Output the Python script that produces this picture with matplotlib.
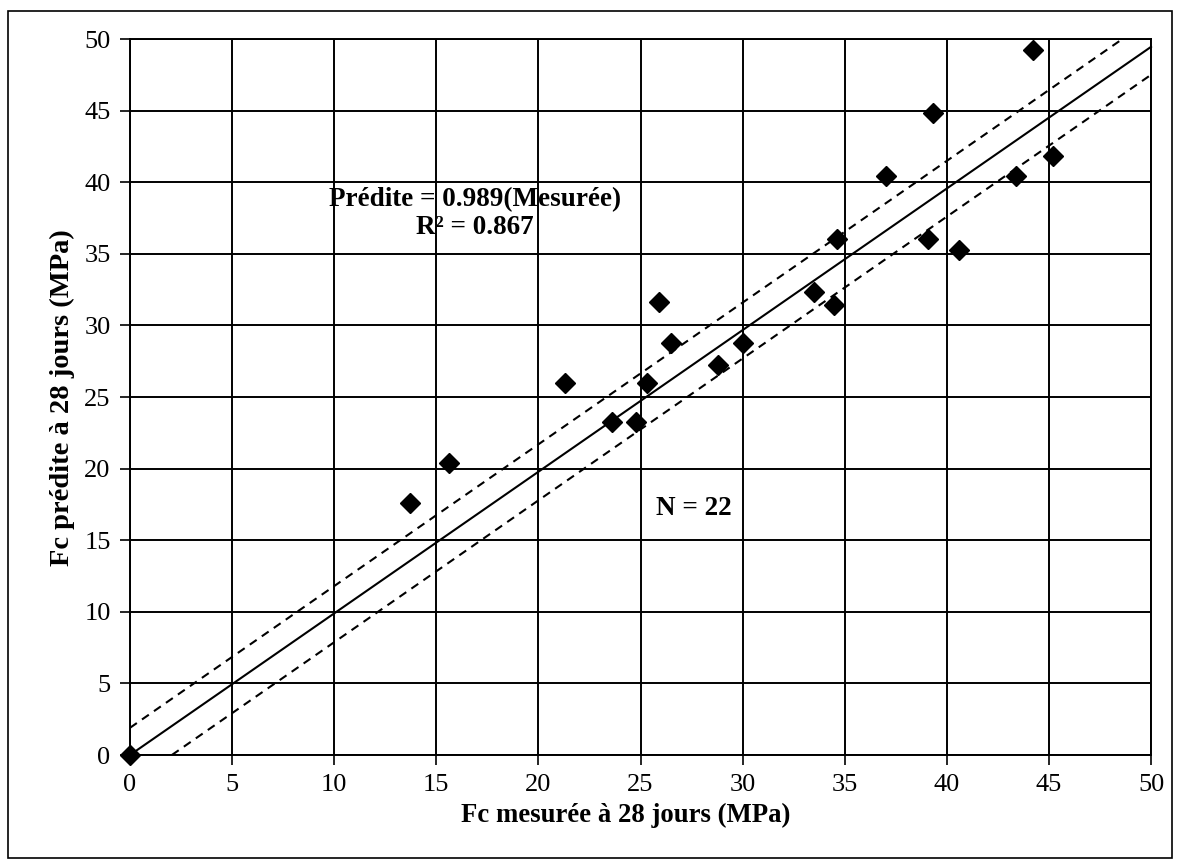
import matplotlib
matplotlib.use("Agg")
import matplotlib.pyplot as plt
from matplotlib.patches import Rectangle

# Data
measured = [0, 13.7, 15.6, 21.3, 23.6, 24.8, 25.3, 25.9, 26.5, 28.8, 30.0,
            33.5, 34.5, 34.6, 37.0, 39.1, 39.3, 40.6, 43.4, 44.2, 45.2]
predicted = [0, 17.6, 20.4, 26.0, 23.25, 23.25, 26.0, 31.6, 28.8, 27.2, 28.8,
             32.3, 31.4, 36.0, 40.4, 36.0, 44.8, 35.3, 40.4, 49.2, 41.8]
fit_x = [0, 50]
fit_y = [0, 49.45]
upper_x = [0, 48.6]
upper_y = [1.9, 50]
lower_x = [2.05, 50]
lower_y = [0, 47.5]
ticks = [0, 5, 10, 15, 20, 25, 30, 35, 40, 45, 50]

W, H = 1180, 867
fig = plt.figure(figsize=(W / 100, H / 100), dpi=100)
ax = fig.add_axes([130 / W, 1 - 755 / H, (1151 - 130) / W, (755 - 39) / H])

serif = ["Liberation Serif", "DejaVu Serif"]

ax.set_xlim(0, 50)
ax.set_ylim(0, 50)
ax.set_xticks(ticks)
ax.set_yticks(ticks)
ax.grid(True, color="black", linewidth=1.4)
ax.set_axisbelow(True)
for s in ax.spines.values():
    s.set_color("black")
    s.set_linewidth(1.4)
ax.tick_params(direction="out", length=7, width=1.2, colors="black",
               labelsize=19, pad=7)
for lab in ax.get_xticklabels() + ax.get_yticklabels():
    lab.set_family(serif)

ax.plot(fit_x, fit_y, color="black", linewidth=1.5, clip_on=False, zorder=3)
ax.plot(upper_x, upper_y, color="black", linewidth=1.5, linestyle=(0, (4, 3)), zorder=3)
ax.plot(lower_x, lower_y, color="black", linewidth=1.5, linestyle=(0, (4, 3)), zorder=3)
ax.plot(measured, predicted, linestyle="none", marker="D", markersize=10.5,
        color="black", clip_on=False, zorder=4)

ax.set_xlabel("Fc mesurée à 28 jours (MPa)", family=serif, fontweight="bold",
              fontsize=19.3)
ax.xaxis.set_label_coords((626 - 130) / 1021, -(815 - 755) / 716, transform=ax.transAxes)
ax.xaxis.label.set_va("center")
ax.set_ylabel("Fc prédite à 28 jours (MPa)", family=serif, fontweight="bold",
              fontsize=20.5)
ax.yaxis.set_label_coords(-(130 - 62) / 1021, (755 - 398) / 716, transform=ax.transAxes)
ax.yaxis.label.set_va("center")

ax.text(16.9, 37.8, "Prédite = 0.989(Mesurée)\nR² = 0.867", family=serif,
        fontweight="bold", fontsize=19.5, ha="center", va="center",
        linespacing=1.12, zorder=5)
ax.text(27.6, 17.2, "N = 22", family=serif, fontweight="bold", fontsize=19.5,
        ha="center", va="center", zorder=5)

fig.patches.append(Rectangle((8 / W, 1 - 858 / H), (1172 - 8) / W, (858 - 11) / H,
                             transform=fig.transFigure, fill=False,
                             edgecolor="black", linewidth=1.2))

fig.savefig("out.png", dpi=100, facecolor="white")
